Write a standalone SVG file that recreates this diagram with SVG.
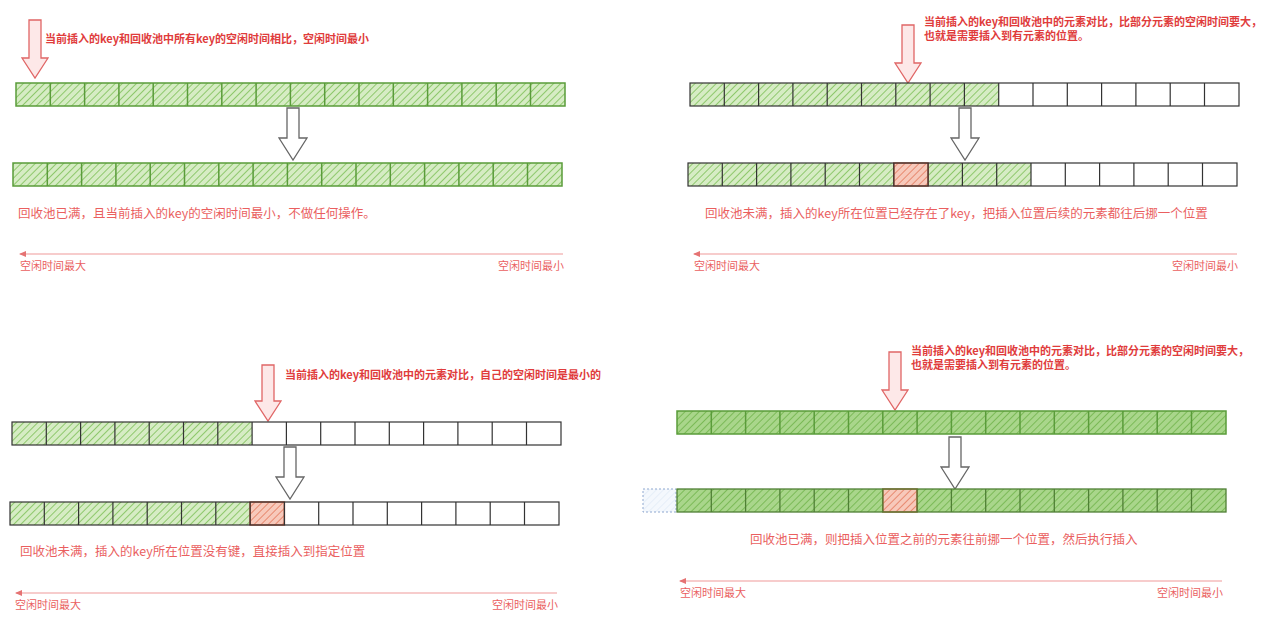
<svg xmlns="http://www.w3.org/2000/svg" width="1275" height="639" viewBox="0 0 1275 639">
<defs>
<pattern id="hg" width="5" height="5" patternUnits="userSpaceOnUse" patternTransform="rotate(45)"><rect width="5" height="5" fill="#d6ecc4"/><line x1="0" y1="0" x2="0" y2="5" stroke="#7cbf55" stroke-width="1.6"/></pattern>
<pattern id="hd" width="5" height="5" patternUnits="userSpaceOnUse" patternTransform="rotate(45)"><rect width="5" height="5" fill="#a9d68b"/><line x1="0" y1="0" x2="0" y2="5" stroke="#6fb34a" stroke-width="1.6"/></pattern>
<pattern id="hr" width="5" height="5" patternUnits="userSpaceOnUse" patternTransform="rotate(45)"><rect width="5" height="5" fill="#f7c9bb"/><line x1="0" y1="0" x2="0" y2="5" stroke="#e3795c" stroke-width="1.6"/></pattern>
<pattern id="hb" width="5" height="5" patternUnits="userSpaceOnUse" patternTransform="rotate(45)"><rect width="5" height="5" fill="#f4f8fd"/><line x1="0" y1="0" x2="0" y2="5" stroke="#dde8f5" stroke-width="1.2"/></pattern>
<marker id="ah" markerWidth="8" markerHeight="8" refX="7" refY="4" orient="auto" markerUnits="userSpaceOnUse"><path d="M1,1 L8,4 L1,7 Z" fill="#e57373"/></marker>
</defs>
<style>
.g{fill:url(#hg)} .d{fill:url(#hd)} .r{fill:url(#hr);stroke:#c0573e;stroke-width:1.5}
.o{fill:none;stroke:#333;stroke-width:1.2} .og{fill:none;stroke:#5a9c3a;stroke-width:1.5}
.dv{fill:none;stroke:#333;stroke-width:1.2} .dg{fill:none;stroke:#5a9c3a;stroke-width:1.5}
.pa{fill:#fde8e8;stroke:#e06666;stroke-width:1.3} .ga{fill:#fff;stroke:#666;stroke-width:1.3}
.n{font-family:"Noto Sans CJK SC","Liberation Sans",sans-serif;font-size:11px;font-weight:bold;fill:#e03c3c}
.c{font-family:"Noto Sans CJK SC","Liberation Sans",sans-serif;font-size:12.5px;fill:#ea5f5f}
.l{font-family:"Noto Sans CJK SC","Liberation Sans",sans-serif;font-size:11px;fill:#ea5f5f}
.ln{stroke:#ef9a9a;stroke-width:1.2;fill:none}
</style>

<g id="panel-tl">
<path class="pa" d="M29 20 h12 v38 h7 l-13 20 l-13 -20 h7 z"/>
<text class="n" x="45" y="43">当前插入的key和回收池中所有key的空闲时间相比，空闲时间最小</text>
<rect class="g" x="16" y="83" width="549" height="23"/>
<rect class="og" x="16" y="83" width="549" height="23"/>
<path class="dg" d="M50.3 83 v23 m34.3 -23 v23 m34.3 -23 v23 m34.3 -23 v23 m34.3 -23 v23 m34.3 -23 v23 m34.3 -23 v23 m34.3 -23 v23 m34.3 -23 v23 m34.3 -23 v23 m34.3 -23 v23 m34.3 -23 v23 m34.3 -23 v23 m34.3 -23 v23 m34.3 -23 v23"/>
<path class="ga" d="M287 108 h12 v30 h8 l-14 22 l-14 -22 h8 z"/>
<rect class="g" x="13" y="163" width="549" height="23"/>
<rect class="og" x="13" y="163" width="549" height="23"/>
<path class="dg" d="M47.3 163 v23 m34.3 -23 v23 m34.3 -23 v23 m34.3 -23 v23 m34.3 -23 v23 m34.3 -23 v23 m34.3 -23 v23 m34.3 -23 v23 m34.3 -23 v23 m34.3 -23 v23 m34.3 -23 v23 m34.3 -23 v23 m34.3 -23 v23 m34.3 -23 v23 m34.3 -23 v23"/>
<text class="c" x="18" y="218">回收池已满，且当前插入的key的空闲时间最小，不做任何操作。</text>
<line class="ln" x1="563" y1="254" x2="20" y2="254" marker-end="url(#ah)"/>
<text class="l" x="20" y="270">空闲时间最大</text>
<text class="l" x="498" y="270">空闲时间最小</text>
</g>

<g id="panel-tr">
<path class="pa" d="M902 25 h12 v38 h7 l-13 20 l-13 -20 h7 z"/>
<text class="n" x="924" y="26">当前插入的key和回收池中的元素对比，比部分元素的空闲时间要大，</text>
<text class="n" x="924" y="40">也就是需要插入到有元素的位置。</text>
<rect class="g" x="690" y="83" width="308.7" height="23"/>
<rect class="o" x="690" y="83" width="549" height="23"/>
<path class="dv" d="M724.3 83 v23 m34.3 -23 v23 m34.3 -23 v23 m34.3 -23 v23 m34.3 -23 v23 m34.3 -23 v23 m34.3 -23 v23 m34.3 -23 v23 m34.3 -23 v23 m34.3 -23 v23 m34.3 -23 v23 m34.3 -23 v23 m34.3 -23 v23 m34.3 -23 v23 m34.3 -23 v23"/>
<path class="ga" d="M959 108 h12 v30 h8 l-14 22 l-14 -22 h8 z"/>
<rect class="g" x="688" y="163" width="343" height="23"/>
<rect class="r" x="893.8" y="163" width="34.3" height="23"/>
<rect class="o" x="688" y="163" width="549" height="23"/>
<path class="dv" d="M722.3 163 v23 m34.3 -23 v23 m34.3 -23 v23 m34.3 -23 v23 m34.3 -23 v23 m34.3 -23 v23 m34.3 -23 v23 m34.3 -23 v23 m34.3 -23 v23 m34.3 -23 v23 m34.3 -23 v23 m34.3 -23 v23 m34.3 -23 v23 m34.3 -23 v23 m34.3 -23 v23"/>
<text class="c" x="705" y="218">回收池未满，插入的key所在位置已经存在了key，把插入位置后续的元素都往后挪一个位置</text>
<line class="ln" x1="1237" y1="254" x2="694" y2="254" marker-end="url(#ah)"/>
<text class="l" x="694" y="270">空闲时间最大</text>
<text class="l" x="1172" y="270">空闲时间最小</text>
</g>

<g id="panel-bl">
<path class="pa" d="M262 365 h12 v36 h7 l-13 20 l-13 -20 h7 z"/>
<text class="n" x="285" y="379">当前插入的key和回收池中的元素对比，自己的空闲时间是最小的</text>
<rect class="g" x="12" y="422" width="240" height="23"/>
<rect class="o" x="12" y="422" width="549" height="23"/>
<path class="dv" d="M46.3 422 v23 m34.3 -23 v23 m34.3 -23 v23 m34.3 -23 v23 m34.3 -23 v23 m34.3 -23 v23 m34.3 -23 v23 m34.3 -23 v23 m34.3 -23 v23 m34.3 -23 v23 m34.3 -23 v23 m34.3 -23 v23 m34.3 -23 v23 m34.3 -23 v23 m34.3 -23 v23"/>
<path class="ga" d="M284 447 h12 v30 h8 l-14 22 l-14 -22 h8 z"/>
<rect class="g" x="10" y="502" width="240" height="23"/>
<rect class="r" x="250.1" y="502" width="34.3" height="23"/>
<rect class="o" x="10" y="502" width="549" height="23"/>
<path class="dv" d="M44.3 502 v23 m34.3 -23 v23 m34.3 -23 v23 m34.3 -23 v23 m34.3 -23 v23 m34.3 -23 v23 m34.3 -23 v23 m34.3 -23 v23 m34.3 -23 v23 m34.3 -23 v23 m34.3 -23 v23 m34.3 -23 v23 m34.3 -23 v23 m34.3 -23 v23 m34.3 -23 v23"/>
<text class="c" x="20" y="556">回收池未满，插入的key所在位置没有键，直接插入到指定位置</text>
<line class="ln" x1="557" y1="593" x2="16" y2="593" marker-end="url(#ah)"/>
<text class="l" x="15" y="609">空闲时间最大</text>
<text class="l" x="492" y="609">空闲时间最小</text>
</g>

<g id="panel-br">
<path class="pa" d="M889 352 h12 v38 h7 l-13 20 l-13 -20 h7 z"/>
<text class="n" x="911" y="355">当前插入的key和回收池中的元素对比，比部分元素的空闲时间要大，</text>
<text class="n" x="911" y="369">也就是需要插入到有元素的位置。</text>
<rect class="d" x="677" y="411" width="549" height="23"/>
<rect class="og" x="677" y="411" width="549" height="23"/>
<path class="dg" d="M711.3 411 v23 m34.3 -23 v23 m34.3 -23 v23 m34.3 -23 v23 m34.3 -23 v23 m34.3 -23 v23 m34.3 -23 v23 m34.3 -23 v23 m34.3 -23 v23 m34.3 -23 v23 m34.3 -23 v23 m34.3 -23 v23 m34.3 -23 v23 m34.3 -23 v23 m34.3 -23 v23"/>
<path class="ga" d="M949 437 h12 v30 h8 l-14 22 l-14 -22 h8 z"/>
<rect x="643" y="489" width="33" height="23" fill="url(#hb)" stroke="#8fa8d0" stroke-width="1" stroke-dasharray="2 2"/>
<rect class="d" x="677" y="489" width="549" height="23"/>
<rect class="r" x="882.8" y="489" width="34.3" height="23"/>
<rect fill="none" stroke="#4f7f35" stroke-width="1.3" x="677" y="489" width="549" height="23"/>
<path fill="none" stroke="#4f7f35" stroke-width="1.3" d="M711.3 489 v23 m34.3 -23 v23 m34.3 -23 v23 m34.3 -23 v23 m34.3 -23 v23 m34.3 -23 v23 m34.3 -23 v23 m34.3 -23 v23 m34.3 -23 v23 m34.3 -23 v23 m34.3 -23 v23 m34.3 -23 v23 m34.3 -23 v23 m34.3 -23 v23 m34.3 -23 v23"/>
<text class="c" x="750" y="544">回收池已满，则把插入位置之前的元素往前挪一个位置，然后执行插入</text>
<line class="ln" x1="1222" y1="581" x2="680" y2="581" marker-end="url(#ah)"/>
<text class="l" x="680" y="597">空闲时间最大</text>
<text class="l" x="1157" y="597">空闲时间最小</text>
</g>
</svg>
